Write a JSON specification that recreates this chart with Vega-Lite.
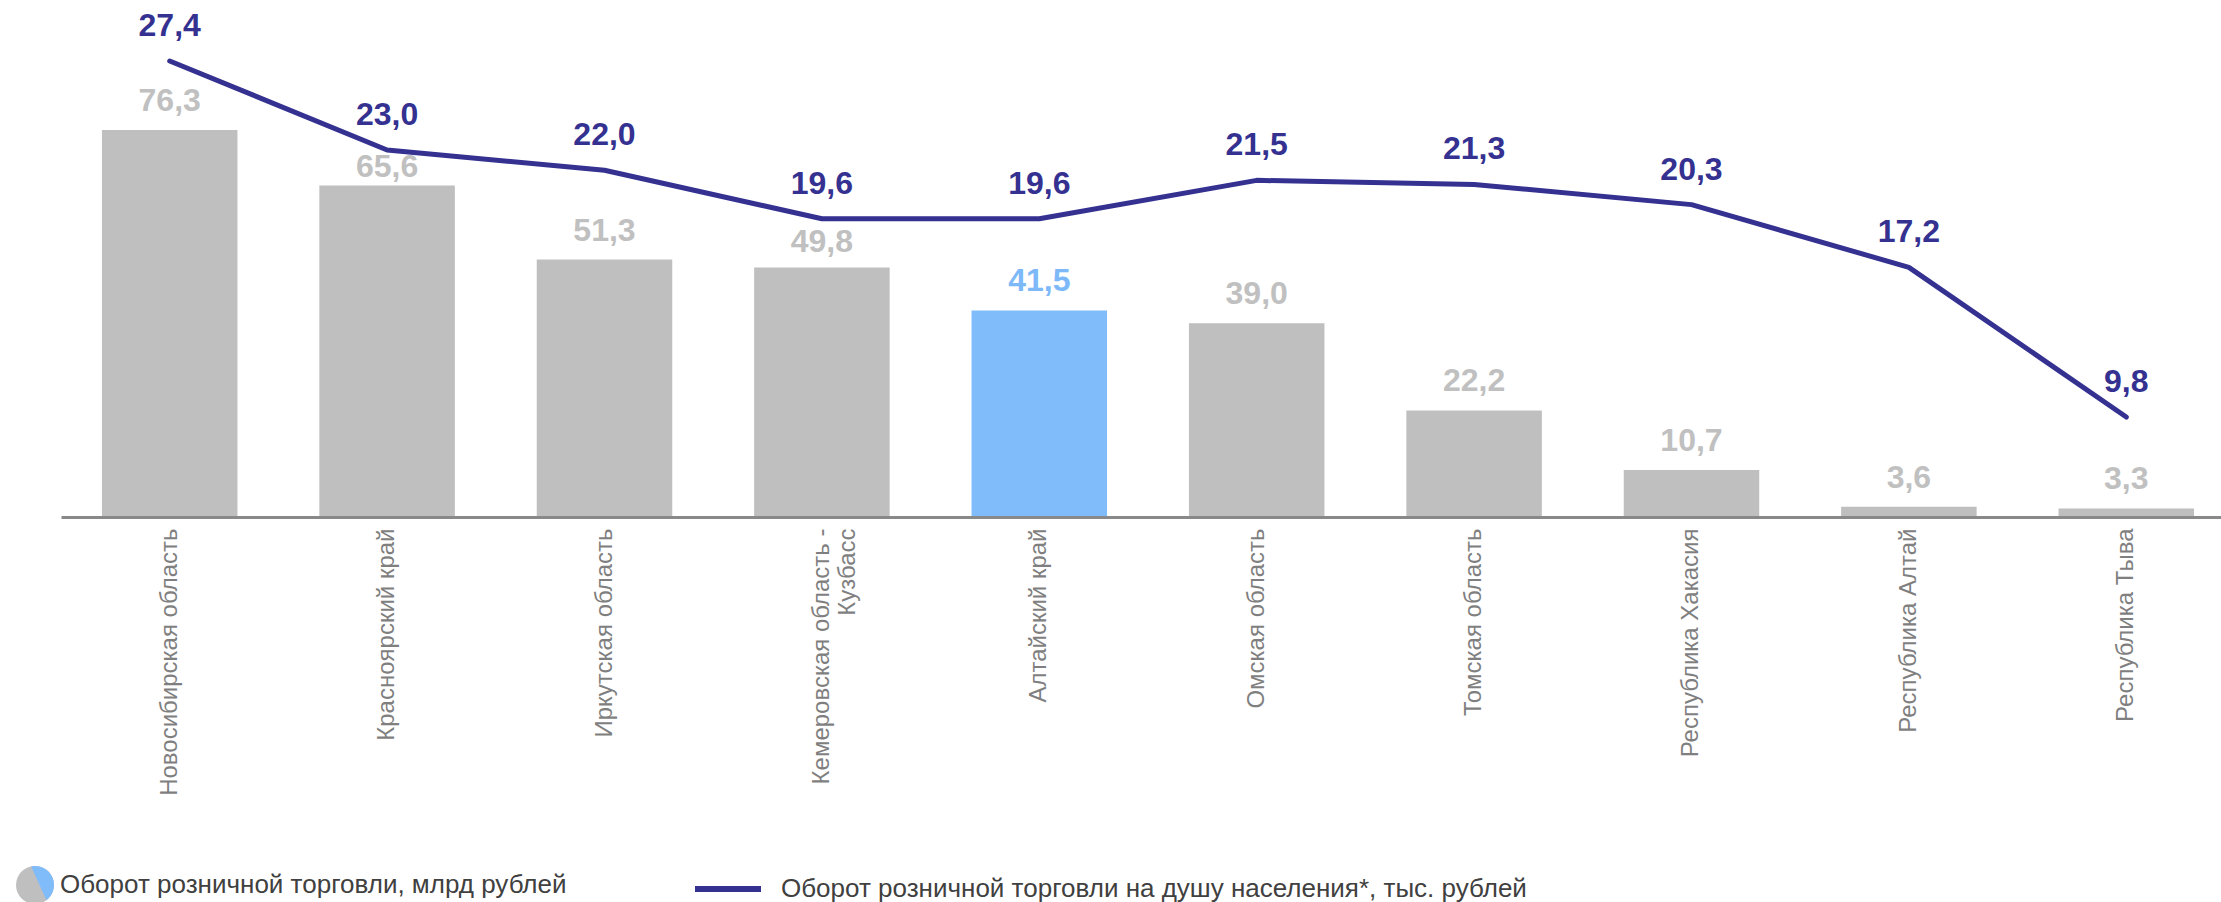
{
  "$schema": "https://vega.github.io/schema/vega-lite/v6.json",
  "autosize": {"type": "none"},
  "width": 2160,
  "height": 507,
  "padding": {"left": 61, "top": 10, "right": 0, "bottom": 385},
  "background": "white",
  "config": {
    "view": {"stroke": null},
    "font": "Liberation Sans",
    "locale": {"number": {"decimal": ",", "thousands": " ", "grouping": [3], "currency": ["", ""]}},
    "legend": {"padding": 0, "labelFont": "Liberation Sans", "labelFontSize": 26, "labelColor": "#404040", "labelLimit": 1500, "title": null}
  },
  "data": {
    "values": [
      {"region": "Новосибирская область", "turnover": 76.3, "perCapita": 27.4},
      {"region": "Красноярский край", "turnover": 65.6, "perCapita": 23.0},
      {"region": "Иркутская область", "turnover": 51.3, "perCapita": 22.0},
      {"region": "Кемеровская область - Кузбасс", "turnover": 49.8, "perCapita": 19.6},
      {"region": "Алтайский край", "turnover": 41.5, "perCapita": 19.6},
      {"region": "Омская область", "turnover": 39.0, "perCapita": 21.5},
      {"region": "Томская область", "turnover": 22.2, "perCapita": 21.3},
      {"region": "Республика Хакасия", "turnover": 10.7, "perCapita": 20.3},
      {"region": "Республика Алтай", "turnover": 3.6, "perCapita": 17.2},
      {"region": "Республика Тыва", "turnover": 3.3, "perCapita": 9.8}
    ]
  },
  "encoding": {
    "x": {
      "field": "region",
      "type": "nominal",
      "sort": null,
      "scale": {"paddingInner": 0.3767, "paddingOuter": 0.1562, "align": 0.603},
      "axis": {
        "title": null,
        "labelAngle": -90,
        "labelFont": "Liberation Sans",
        "labelFontSize": 24,
        "labelColor": "#7F7F7F",
        "labelPadding": 11,
        "labelLimit": 500,
        "labelLineHeight": 26,
        "ticks": false,
        "tickSize": 0,
        "domainColor": "#898989",
        "domainWidth": 3,
        "zindex": 1,
        "labelExpr": "datum.value == 'Кемеровская область - Кузбасс' ? ['Кемеровская область -', 'Кузбасс'] : datum.value"
      }
    }
  },
  "layer": [
    {
      "encoding": {
        "y": {"field": "turnover", "type": "quantitative", "scale": {"domain": [1.64, 99.46], "zero": false, "nice": false}, "axis": null}
      },
      "layer": [
        {
          "mark": {"type": "bar", "clip": true},
          "encoding": {
            "fill": {"condition": {"test": "datum.region === 'Алтайский край'", "value": "#80BBFA"}, "value": "#BFBFBF"},
            "opacity": {
              "datum": "Оборот розничной торговли, млрд рублей",
              "type": "ordinal",
              "scale": {"range": [1]},
              "legend": {
                "orient": "none",
                "legendX": -45,
                "legendY": 856,
                "symbolType": "circle",
                "symbolSize": 1444,
                "symbolStrokeWidth": 0,
                "symbolFillColor": "#BFBFBF",
                "labelOffset": 6,
                "zindex": 0
              }
            }
          }
        },
        {
          "transform": [{"filter": "datum.region !== 'Красноярский край' && datum.region !== 'Кемеровская область - Кузбасс'"}],
          "mark": {"type": "text", "fontSize": 32, "fontWeight": "bold", "baseline": "alphabetic", "dy": -19},
          "encoding": {
            "text": {"field": "turnover", "type": "quantitative", "format": ".1f"},
            "color": {"condition": {"test": "datum.region === 'Алтайский край'", "value": "#7DB9F8"}, "value": "#C0C0C0"}
          }
        },
        {
          "transform": [{"filter": "datum.region === 'Красноярский край'"}],
          "mark": {"type": "text", "fontSize": 32, "fontWeight": "bold", "baseline": "alphabetic", "dy": -8, "color": "#C0C0C0"},
          "encoding": {
            "text": {"field": "turnover", "type": "quantitative", "format": ".1f"}
          }
        },
        {
          "transform": [{"filter": "datum.region === 'Кемеровская область - Кузбасс'"}],
          "mark": {"type": "text", "fontSize": 32, "fontWeight": "bold", "baseline": "alphabetic", "dy": -15, "color": "#C0C0C0"},
          "encoding": {
            "text": {"field": "turnover", "type": "quantitative", "format": ".1f"}
          }
        }
      ]
    },
    {
      "encoding": {
        "y": {"field": "perCapita", "type": "quantitative", "scale": {"domain": [4.86, 29.92], "zero": false, "nice": false}, "axis": null}
      },
      "layer": [
        {
          "mark": {"type": "line", "strokeWidth": 5, "strokeCap": "round", "strokeJoin": "round"},
          "encoding": {
            "stroke": {
              "datum": "Оборот розничной торговли на душу населения*, тыс. рублей",
              "type": "nominal",
              "scale": {"range": ["#343191"]},
              "legend": {
                "orient": "none",
                "legendX": 631,
                "legendY": 843,
                "symbolType": "stroke",
                "symbolSize": 4356,
                "symbolStrokeWidth": 6,
                "labelOffset": 17
              }
            },
            "opacity": {
              "datum": " ",
              "type": "ordinal",
              "scale": {"range": [1]},
              "legend": {
                "orient": "none",
                "legendX": -45,
                "legendY": 856,
                "symbolType": "M -0.2,-0.98 A 1,1 0 0,1 0.6,0.8 Z",
                "symbolSize": 1444,
                "symbolStrokeWidth": 0,
                "symbolFillColor": "#80BBFA",
                "symbolOpacity": 1,
                "labelOffset": 6,
                "zindex": 1
              }
            }
          }
        },
        {
          "mark": {"type": "text", "fontSize": 32, "fontWeight": "bold", "baseline": "alphabetic", "dy": -25, "color": "#343191"},
          "encoding": {
            "text": {"field": "perCapita", "type": "quantitative", "format": ".1f"}
          }
        }
      ]
    }
  ],
  "resolve": {"scale": {"y": "independent", "stroke": "independent", "opacity": "independent"}}
}
